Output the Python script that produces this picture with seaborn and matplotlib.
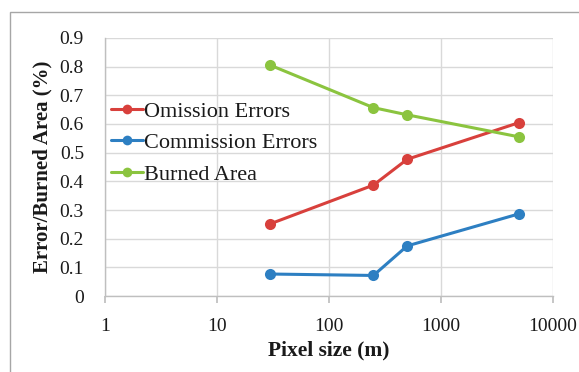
import matplotlib
matplotlib.use("Agg")
import matplotlib.pyplot as plt
import matplotlib.ticker as mticker
from matplotlib.patches import Rectangle
import seaborn as sns
import pandas as pd

pixel_size = [30, 250, 500, 5000]
omission = [0.252, 0.387, 0.477, 0.605]
commission = [0.077, 0.072, 0.175, 0.287]
burned = [0.805, 0.657, 0.632, 0.555]
series_names = ["Omission Errors", "Commission Errors", "Burned Area"]
colors = ["#d8403c", "#2d7fc2", "#8bc43f"]
y_ticks = [0, 0.1, 0.2, 0.3, 0.4, 0.5, 0.6, 0.7, 0.8, 0.9]
x_ticks = [1, 10, 100, 1000, 10000]

rows = []
for name, vals in zip(series_names, [omission, commission, burned]):
    for x, v in zip(pixel_size, vals):
        rows.append({"Pixel size": x, "value": v, "series": name})
df = pd.DataFrame(rows)

sns.set_theme(style="white")
plt.rcParams["font.family"] = ["Liberation Serif", "DejaVu Serif"]

fig = plt.figure(figsize=(5.79, 3.72), dpi=100)
ax = fig.add_axes([0.181, 0.204, 0.774, 0.694])

sns.lineplot(data=df, x="Pixel size", y="value", hue="series", hue_order=series_names,
             palette=colors, marker="o", markersize=8, markeredgewidth=0,
             linewidth=2.2, ax=ax, legend=True)

ax.set_xscale("log")
ax.set_xlim(1, 10000)
ax.set_ylim(0, 0.9)
ax.set_xticks(x_ticks)
ax.xaxis.set_major_formatter(mticker.FuncFormatter(lambda v, p: f"{int(round(v))}"))
ax.xaxis.set_minor_locator(mticker.NullLocator())
ax.set_yticks(y_ticks)
ax.yaxis.set_major_formatter(mticker.FuncFormatter(lambda v, p: "0" if v == 0 else f"{v:.1f}"))
ax.grid(True, color="#d9d9d9", linewidth=1.0)
ax.set_axisbelow(True)
for s in ["top", "right"]:
    ax.spines[s].set_visible(False)
for s in ["left", "bottom"]:
    ax.spines[s].set_color("#bfbfbf")
    ax.spines[s].set_linewidth(1.0)
ax.tick_params(axis="x", which="major", bottom=True, length=5, color="#bfbfbf",
               labelsize=14, pad=11)
ax.tick_params(axis="y", left=False, labelsize=14, pad=9)
for lab in ax.get_xticklabels() + ax.get_yticklabels():
    lab.set_color("#1a1a1a")

ax.set_xlabel("Pixel size (m)", fontsize=15.5, fontweight="bold", labelpad=4, color="#1a1a1a")
ax.set_ylabel("Error/Burned Area (%)", fontsize=15, fontweight="bold", labelpad=5, color="#1a1a1a")

leg = ax.legend(loc="upper left", bbox_to_anchor=(-0.005, 0.79), frameon=False,
                fontsize=16, handlelength=1.4, handletextpad=0.05,
                labelspacing=0.5, borderaxespad=0)
for h in leg.legend_handles:
    h.set_markersize(7)
for t in leg.get_texts():
    t.set_color("#1a1a1a")

fig.patches.append(Rectangle((10 / 579, -0.05), 1.0, 1 - 12 / 372 + 0.05,
                             transform=fig.transFigure, fill=False,
                             edgecolor="#a6a6a6", linewidth=1.0))

fig.savefig("out.png", dpi=100)
